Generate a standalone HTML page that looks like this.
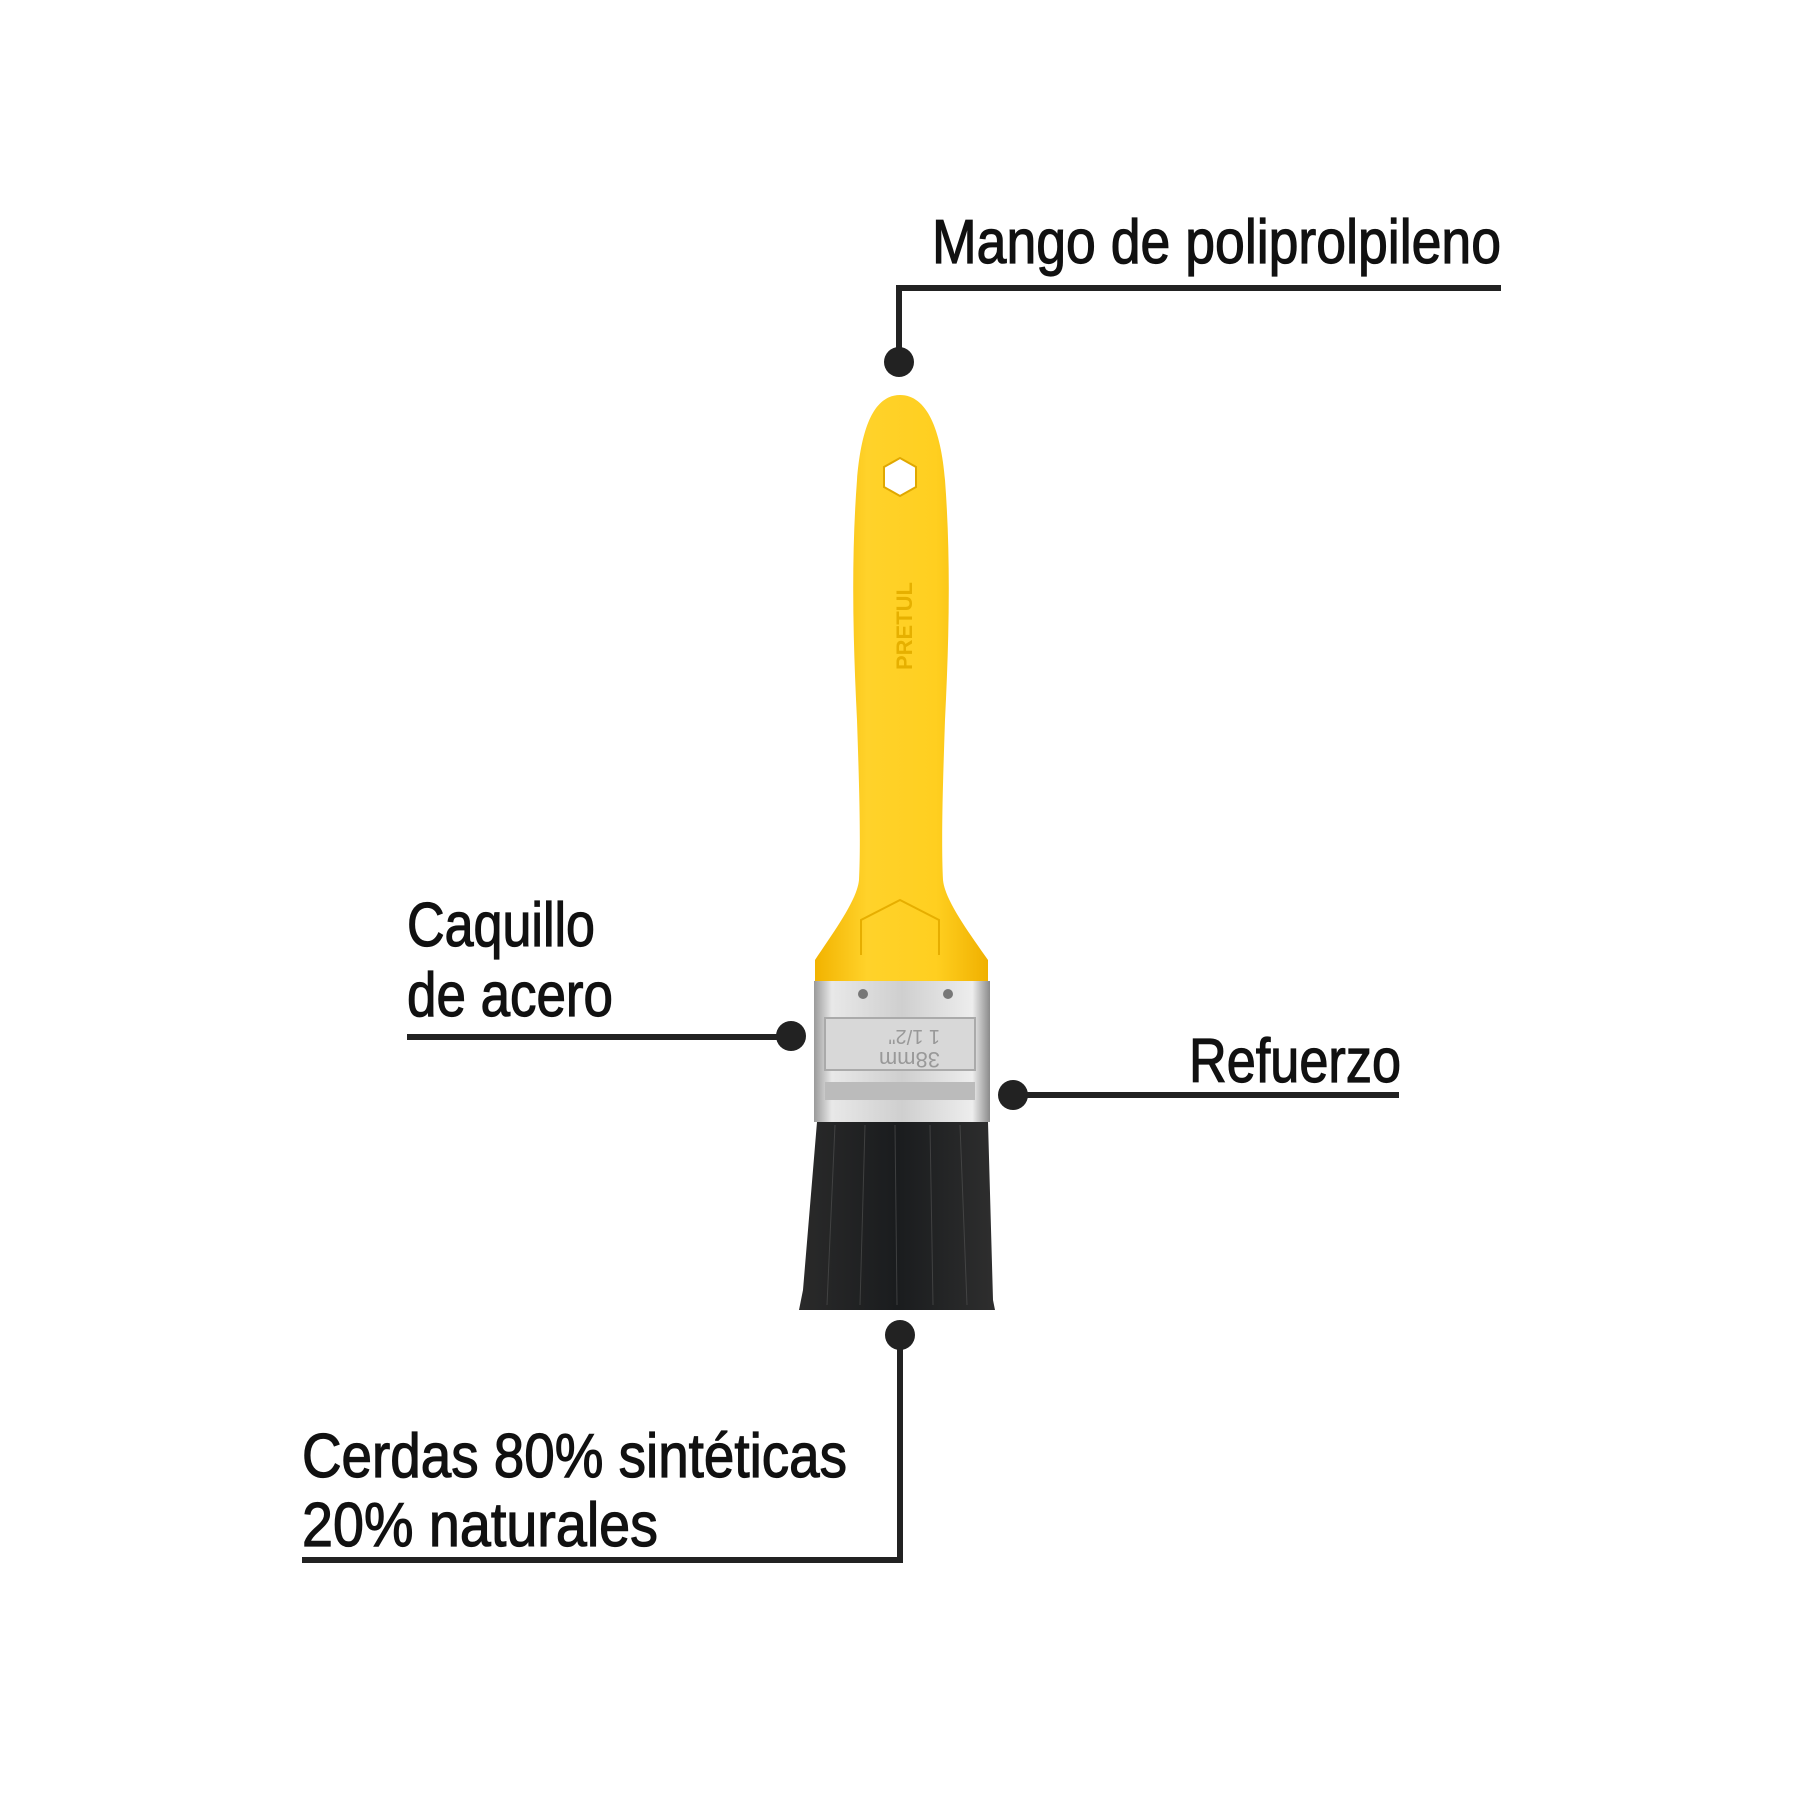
<!DOCTYPE html>
<html><head><meta charset="utf-8"><style>html,body{margin:0;padding:0;background:#fff}svg{display:block}</style></head>
<body>
<svg width="1800" height="1800" viewBox="0 0 1800 1800" xmlns="http://www.w3.org/2000/svg">
<defs>
<linearGradient id="y" x1="0" x2="1"><stop offset="0" stop-color="#f2b300"/><stop offset="0.3" stop-color="#ffd22a"/><stop offset="0.7" stop-color="#ffcf20"/><stop offset="1" stop-color="#f0b000"/></linearGradient>
<linearGradient id="m" x1="0" x2="1"><stop offset="0" stop-color="#9a9a9a"/><stop offset="0.1" stop-color="#e8e8e8"/><stop offset="0.5" stop-color="#cfcfcf"/><stop offset="0.9" stop-color="#ededed"/><stop offset="1" stop-color="#8a8a8a"/></linearGradient>
<linearGradient id="b" x1="0" x2="1"><stop offset="0" stop-color="#2a2a2a"/><stop offset="0.5" stop-color="#1a1c1e"/><stop offset="1" stop-color="#2e2e2e"/></linearGradient>
</defs>
<g transform="translate(-5,0)">
<g font-family="Liberation Sans, sans-serif" font-size="62" fill="#111" stroke="#111" stroke-width="1.2">
<text x="937" y="263" textLength="569" lengthAdjust="spacingAndGlyphs">Mango de poliprolpileno</text>
<text x="412" y="946" textLength="188" lengthAdjust="spacingAndGlyphs">Caquillo</text>
<text x="412" y="1016" textLength="206" lengthAdjust="spacingAndGlyphs">de acero</text>
<text x="1194" y="1082" textLength="212" lengthAdjust="spacingAndGlyphs">Refuerzo</text>
<text x="307" y="1477" textLength="545" lengthAdjust="spacingAndGlyphs">Cerdas 80% sintéticas</text>
<text x="307" y="1546" textLength="356" lengthAdjust="spacingAndGlyphs">20% naturales</text>
</g>
<g stroke="#222" stroke-width="6" fill="none">
<polyline points="1506,288 904,288 904,355"/>
<line x1="412" y1="1037" x2="796" y2="1037"/>
<line x1="1018" y1="1095" x2="1404" y2="1095"/>
<polyline points="905,1335 905,1560 307,1560"/>
</g>
<g fill="#222">
<circle cx="904" cy="362" r="15"/><circle cx="796" cy="1036" r="15"/><circle cx="1018" cy="1095" r="15"/><circle cx="905" cy="1335" r="15"/>
</g>
<path d="M905,395 C878,395 866,430 862,480 C856,560 858,640 862,720 C864,780 866,840 864,880 C862,900 840,930 820,960 L820,981 L993,981 L993,960 C972,930 950,900 948,880 C946,840 948,780 950,720 C954,640 956,560 950,480 C946,430 932,395 905,395 Z" fill="url(#y)"/>
<polygon points="905,458 921,467 921,487 905,496 889,487 889,467" fill="#fff" stroke="#e0a800" stroke-width="2"/>
<text x="0" y="0" transform="translate(917,670) rotate(-90)" font-family="Liberation Sans, sans-serif" font-weight="bold" font-size="22" fill="#e6b000">PRETUL</text>
<path d="M866,955 L866,920 L905,900 L944,920 L944,955" fill="none" stroke="#e6ae00" stroke-width="2"/>
<rect x="819" y="981" width="176" height="141" fill="url(#m)"/>
<rect x="830" y="1018" width="150" height="52" fill="#d8d8d8" stroke="#aaa" stroke-width="2"/>
<rect x="830" y="1082" width="150" height="18" fill="#bbb"/>
<circle cx="868" cy="994" r="5" fill="#777"/><circle cx="953" cy="994" r="5" fill="#777"/>
<text x="0" y="0" transform="translate(945,1030) rotate(180)" font-family="Liberation Sans, sans-serif" font-size="20" fill="#999">1 1/2"</text>
<text x="0" y="0" transform="translate(945,1052) rotate(180)" font-family="Liberation Sans, sans-serif" font-size="22" fill="#999">38mm</text>
<path d="M822,1122 L993,1122 L998,1300 L1000,1310 L804,1310 L808,1290 Z" fill="url(#b)"/>
<g stroke="#555" stroke-width="1" opacity="0.6">
<line x1="840" y1="1125" x2="832" y2="1305"/><line x1="870" y1="1125" x2="865" y2="1305"/><line x1="900" y1="1125" x2="902" y2="1305"/><line x1="935" y1="1125" x2="938" y2="1305"/><line x1="965" y1="1125" x2="972" y2="1305"/>
</g>
</g>
</svg>
</body></html>
